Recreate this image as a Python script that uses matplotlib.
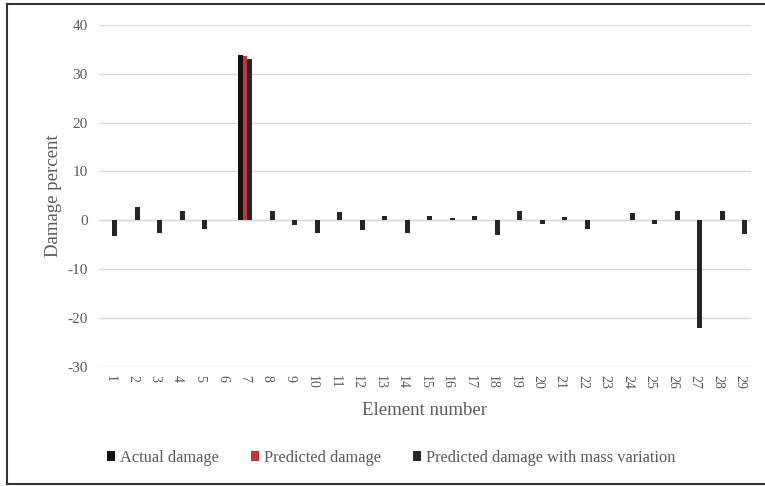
import matplotlib
matplotlib.use("Agg")
import matplotlib.pyplot as plt
from matplotlib.patches import Patch
from matplotlib.lines import Line2D
import numpy as np

plt.rcParams['font.family'] = ['Liberation Serif', 'DejaVu Serif']

elements = [str(i) for i in range(1, 30)]
actual_damage = [0, 0, 0, 0, 0, 0, 33.8, 0, 0, 0, 0, 0, 0, 0, 0,
                 0, 0, 0, 0, 0, 0, 0, 0, 0, 0, 0, 0, 0, 0]
predicted_damage = [0, 0, 0, 0, 0, 0, 33.6, 0, 0, 0, 0, 0, 0, 0, 0,
                    0, 0, 0, 0, 0, 0, 0, 0, 0, 0, 0, 0, 0, 0]
mass_variation = [-3.2, 2.7, -2.5, 2.0, -1.8, 0, 33.0, 1.8, -1.0, -2.5,
                  1.6, -2.0, 0.8, -2.7, 0.8, 0.4, 0.8, -3.0, 2.0, -0.8,
                  0.7, -1.8, 0, 1.4, -0.8, 2.0, -22.0, 1.8, -2.8]
y_ticks = [-30, -20, -10, 0, 10, 20, 30, 40]

fig = plt.figure(figsize=(7.65, 4.86), dpi=100)
ax = fig.add_axes([0.129, 0.245, 0.853, 0.704])

x = np.arange(len(elements))
w = 0.21
c_act = '#111111'
c_pred = '#C8323C'
c_mass = '#262626'
ax.bar(x - w, actual_damage, w, color=c_act, linewidth=0, zorder=3)
ax.bar(x, predicted_damage, w, color=c_pred, linewidth=0, zorder=3)
ax.bar(x + w, mass_variation, w, color=c_mass, linewidth=0, zorder=3)

ax.set_xlim(-0.5, len(elements) - 0.5)
ax.set_ylim(-30, 40)
ax.set_yticks(y_ticks)
ax.set_yticklabels([str(v) for v in y_ticks], fontsize=11, color='#595959')
ax.set_xticks(x)
ax.set_xticklabels(elements, rotation=-90, fontsize=10, color='#595959')
ax.tick_params(length=0, pad=6)
ax.tick_params(axis='y', pad=8)
ax.grid(axis='y', color='#D9D9D9', linewidth=1.0, zorder=0)
for s in ax.spines.values():
    s.set_visible(False)
ax.axhline(0, color='#D9D9D9', linewidth=1.0, zorder=1)

ax.set_xlabel('Element number', fontsize=13.5, color='#595959', labelpad=9)
ax.set_ylabel('Damage percent', fontsize=13.5, color='#595959', labelpad=4)

handles = [Patch(facecolor=c_act, edgecolor='none'),
           Patch(facecolor=c_pred, edgecolor='none'),
           Patch(facecolor=c_mass, edgecolor='none')]
labels = ['Actual damage', 'Predicted damage', 'Predicted damage with mass variation']
leg = fig.legend(handles, labels, loc='center', bbox_to_anchor=(0.511, 0.058), ncol=3,
                 frameon=False, fontsize=11.8, handlelength=0.5, handleheight=0.6,
                 handletextpad=0.3, columnspacing=1.95)
for t in leg.get_texts():
    t.set_color('#595959')

# chart border
fig.add_artist(Line2D([0.0092, 0.0092], [0.004, 0.992], transform=fig.transFigure, color='#333333', lw=1.5))
fig.add_artist(Line2D([0.0092, 1.0], [0.992, 0.992], transform=fig.transFigure, color='#333333', lw=1.5))
fig.add_artist(Line2D([0.0092, 1.0], [0.004, 0.004], transform=fig.transFigure, color='#333333', lw=1.5))

fig.savefig('out.png', dpi=100)
